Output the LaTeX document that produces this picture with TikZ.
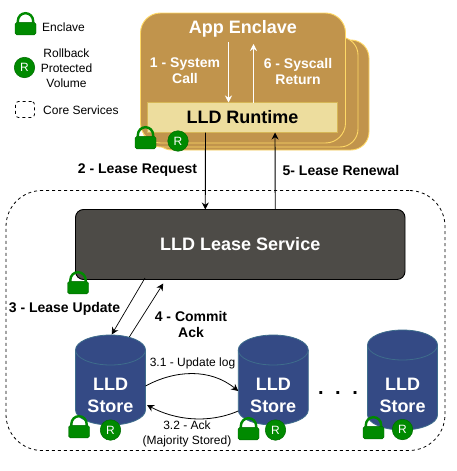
\documentclass[tikz,border=0pt]{standalone}
\usepackage{fontspec}
\setmainfont{Liberation Sans}
\usetikzlibrary{arrows.meta,calc}
\definecolor{cardfill}{HTML}{C1944C}
\definecolor{cardline}{HTML}{FFD966}
\definecolor{rtfill}{HTML}{EDDD9E}
\definecolor{rtline}{HTML}{D6B656}
\definecolor{svcfill}{HTML}{4D4B47}
\definecolor{storefill}{HTML}{344A85}
\definecolor{storeline}{HTML}{3E6D8C}
\definecolor{lockgreen}{HTML}{008A00}
\definecolor{lockline}{HTML}{006B00}
\tikzset{
  box/.style={rectangle,inner sep=0pt,outer sep=0pt},
  card/.style={box,draw=cardline,fill=cardfill,line width=0.9pt,rounded corners=20pt,minimum width=205pt,minimum height=130pt},
  backcard/.style={box,draw=cardline,fill=cardfill,line width=0.9pt,rounded corners=18pt,minimum width=215pt,minimum height=110pt},
  corebox/.style={box,draw=black,dash pattern=on 3pt off 3pt,line width=0.8pt},
  rbadge/.style={circle,fill=lockgreen,draw=lockline,line width=0.5pt,text=white,inner sep=0pt,outer sep=0pt,minimum size=20.5pt,font=\fontsize{12}{12}\selectfont},
  blabel/.style={inner sep=0pt,align=center,font=\fontsize{14}{16}\bfseries\selectfont},
  wlabel/.style={blabel,text=white},
  nlabel/.style={inner sep=0pt,align=center,font=\fontsize{12}{15}\selectfont},
  flowb/.style={-{Stealth[length=7pt,width=7pt]},line width=0.9pt,black},
  floww/.style={-{Stealth[length=7pt,width=7pt]},line width=0.9pt,white},
  storebody/.style={box,minimum width=70pt,minimum height=90pt},
  storetext/.style={box,text=white,align=center,font=\fontsize{18}{22}\bfseries\selectfont},
  lock/.pic={
    \draw[lockgreen,line width=2.4pt] (-7.6,10.5) -- (-7.6,8.8) arc[start angle=180,end angle=360,radius=7.6] -- (7.6,10.5);
    \fill[lockgreen,draw=lockline,line width=0.4pt,rounded corners=1.8pt] (-10.5,10.3) rectangle (10.5,22.8);
  }
}
\newcommand{\storeshape}[3]{% centre x, top y, bottom y
  \path[fill=storefill,draw=storeline,line width=0.8pt]
    (#1-35,#2+15) .. controls (#1-35,#2+6.7) and (#1-19.3,#2) .. (#1,#2)
    .. controls (#1+19.3,#2) and (#1+35,#2+6.7) .. (#1+35,#2+15)
    -- (#1+35,#3-15)
    .. controls (#1+35,#3-6.7) and (#1+19.3,#3) .. (#1,#3)
    .. controls (#1-19.3,#3) and (#1-35,#3-6.7) .. (#1-35,#3-15) -- cycle;
  \draw[storeline,line width=0.8pt] (#1-35,#2+15)
    .. controls (#1-35,#2+23.3) and (#1-19.3,#2+30) .. (#1,#2+30)
    .. controls (#1+19.3,#2+30) and (#1+35,#2+23.3) .. (#1+35,#2+15);
}
\begin{document}
\begin{tikzpicture}[x=1pt,y=-1pt]
\useasboundingbox (0,0) rectangle (456,471);
\fill[white] (0,0) rectangle (456,471);

% legend
\pic at (25.5,12) {lock};
\node[nlabel,anchor=west] (lgEnclave) at (42,27) {Enclave};
\node[rbadge] (lgR) at (24.5,67.5) {R};
\node[nlabel] (lgRollback) at (66.5,68.5) {Rollback\\Protected\\Volume};
\node[corebox,rounded corners=3pt,minimum width=19pt,minimum height=16pt] (lgCore) at (25,109.5) {};
\node[nlabel,anchor=west] (lgCoreText) at (43,110.5) {Core Services};

% core services region
\node[corebox,rounded corners=36pt,minimum width=439pt,minimum height=260pt] (core) at (225.5,320.5) {};

% app enclave stack
\node[backcard] (card3) at (261.5,95) {};
\node[backcard] (card2) at (250.5,92) {};
\node[card] (card1) at (243,78) {};
\node[wlabel,font=\fontsize{18}{20}\bfseries\selectfont] (app) at (243,29) {App Enclave};
\node[wlabel] (sys) at (185,71) {1 - System\\Call};
\node[wlabel] (ret) at (298,71) {6 - Syscall\\Return};
\node[box,draw=rtline,line width=0.3pt,fill=rtfill,minimum width=190pt,minimum height=30pt,font=\fontsize{18}{20}\bfseries\selectfont] (rt) at (242.5,117.5) {LLD Runtime};
\coordinate (sysTop) at (228.5,42);
\coordinate (retTop) at (253.5,44);
\draw[floww] (sysTop) -- (sysTop |- rt.north);
\draw[floww] (retTop |- rt.north) -- (retTop);
\pic at (145.5,126) {lock};
\node[rbadge] (rtR) at (178,141) {R};

% lease service
\node[box,draw=black,line width=0.9pt,fill=svcfill,text=white,rounded corners=8pt,minimum width=329.5pt,minimum height=70pt,font=\fontsize{18}{20}\bfseries\selectfont] (ls) at (240.25,244.5) {LLD Lease Service};
\draw[flowb] ([xshift=-37pt]rt.south) -- ([xshift=-35pt]ls.north);
\draw[flowb] ([xshift=35pt]ls.north) -- ([xshift=32.5pt]rt.south);
\node[blabel] (lreq) at (137.5,170) {2 - Lease Request};
\node[blabel] (lren) at (341,170) {5- Lease Renewal};
\pic at (78,271) {lock};

% stores
\storeshape{110.5}{335}{425}
\storeshape{273.25}{335}{425}
\storeshape{402.5}{330}{430}
\node[storebody] (s1body) at (110.5,380) {};
\node[storebody] (s2body) at (273.25,380) {};
\node[storetext] (s1) at (110.5,395) {LLD\\Store};
\node[storetext] (s2) at (273.25,395) {LLD\\Store};
\node[storetext] (s3) at (402.5,395) {LLD\\Store};
\node[inner sep=0pt,font=\fontsize{20}{20}\bfseries\selectfont] (dots) at (338,393) {.\hspace{11.5pt}.\hspace{11.5pt}.};

\pic at (79,415) {lock};
\node[rbadge] (s1R) at (110.5,430) {R};
\pic at (248.5,417) {lock};
\node[rbadge] (s2R) at (275.5,430) {R};
\pic at (373.5,416) {lock};
\node[rbadge] (s3R) at (402.5,429.5) {R};

% lease update / ack
\draw[flowb,line width=0.7pt] ([xshift=-95.25pt,yshift=1.5pt]ls.south) -- ([xshift=1.2pt,yshift=0.5pt]s1body.north);
\draw[flowb,line width=0.7pt] ([xshift=18.8pt,yshift=-2pt]s1body.north) -- ([xshift=-77pt,yshift=-4pt]ls.south);
\node[blabel] (lu) at (64.5,309) {3 - Lease Update};
\node[blabel] (ca) at (191,324) {4 - Commit\\Ack};

% replication
\draw[flowb,line width=0.8pt] ([yshift=-6pt]s1body.east) .. controls (175,370) and (210,368) .. ([yshift=-11pt]s2body.west);
\draw[flowb,line width=0.8pt] ([yshift=-31pt]s2body.west) .. controls (208,424) and (175,420) .. ([yshift=-25pt,xshift=1.5pt]s1body.east);
\node[nlabel] (l31) at (192.5,363) {3.1 - Update log};
\node[nlabel] (l32) at (187,433.5) {3.2 - Ack\\(Majority Stored)};
\end{tikzpicture}
\end{document}
